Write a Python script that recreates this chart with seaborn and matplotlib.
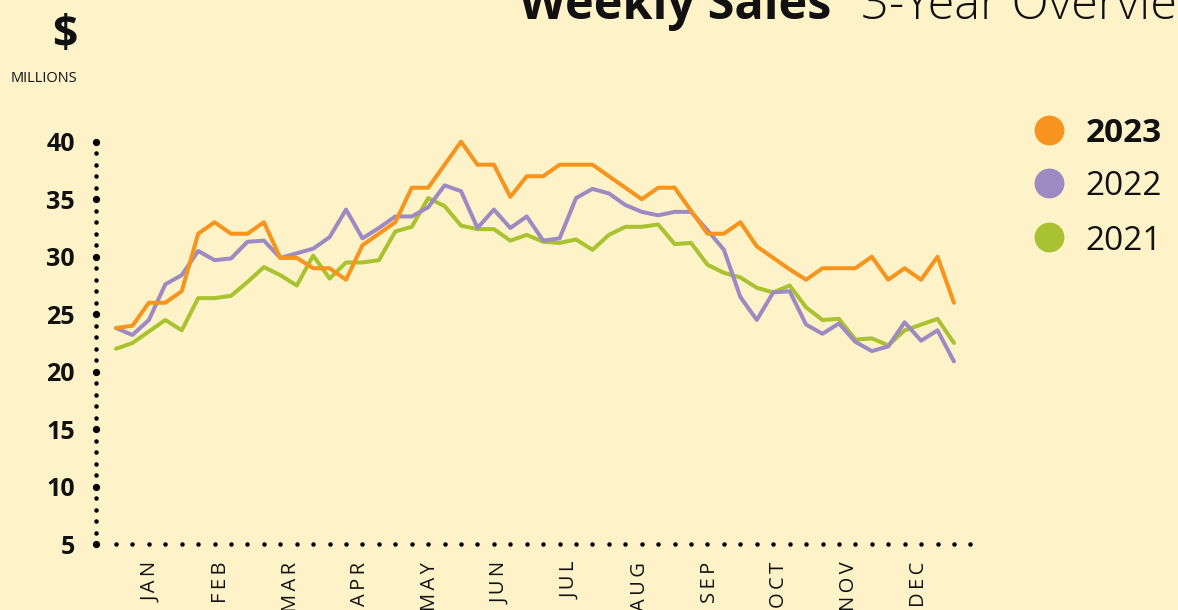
import numpy as np
import pandas as pd
import matplotlib
matplotlib.use("Agg")
import matplotlib.pyplot as plt
from matplotlib.lines import Line2D
import seaborn as sns

# ---------------- data ----------------
years = ["2023", "2022", "2021"]
months = ["JAN", "FEB", "MAR", "APR", "MAY", "JUN", "JUL", "AUG", "SEP", "OCT", "NOV", "DEC"]
sales_2023 = [23.8, 24.0, 26.0, 26.0, 27.0, 32.0, 33.0, 32.0, 32.0, 33.0,
              29.9, 29.9, 29.0, 29.0, 28.0, 31.0, 32.0, 33.0, 36.0, 36.0,
              38.0, 40.0, 38.0, 38.0, 35.2, 37.0, 37.0, 38.0, 38.0, 38.0,
              37.0, 36.0, 35.0, 36.0, 36.0, 34.0, 32.0, 32.0, 33.0, 30.9,
              29.9, 28.9, 28.0, 29.0, 29.0, 29.0, 30.0, 28.0, 29.0, 28.0,
              30.0, 26.0]
sales_2022 = [23.8, 23.2, 24.5, 27.6, 28.4, 30.5, 29.7, 29.85, 31.3, 31.4,
              29.9, 30.3, 30.7, 31.7, 34.1, 31.6, 32.5, 33.5, 33.5, 34.3,
              36.2, 35.7, 32.5, 34.1, 32.5, 33.5, 31.4, 31.6, 35.1, 35.9,
              35.5, 34.5, 33.9, 33.6, 33.9, 33.9, 32.3, 30.6, 26.5, 24.5,
              26.9, 27.0, 24.1, 23.3, 24.2, 22.6, 21.8, 22.2, 24.3, 22.7,
              23.6, 20.9]
sales_2021 = [22.0, 22.5, 23.5, 24.5, 23.6, 26.4, 26.4, 26.6, 27.8, 29.1,
              28.4, 27.5, 30.1, 28.1, 29.5, 29.5, 29.7, 32.2, 32.6, 35.1,
              34.4, 32.7, 32.4, 32.4, 31.4, 31.9, 31.3, 31.2, 31.5, 30.6,
              31.9, 32.6, 32.6, 32.8, 31.1, 31.2, 29.3, 28.6, 28.2, 27.3,
              26.9, 27.5, 25.6, 24.5, 24.6, 22.8, 22.9, 22.3, 23.6, 24.1,
              24.6, 22.5]
y_ticks = [5, 10, 15, 20, 25, 30, 35, 40]

colors = {"2023": "#F7941D", "2022": "#9E8AC2", "2021": "#A9C22F"}
BG = "#FEF3C8"

n_weeks = len(sales_2023)
df = pd.DataFrame({
    "week": np.tile(np.arange(n_weeks), 3),
    "sales": sales_2021 + sales_2022 + sales_2023,
    "year": ["2021"] * n_weeks + ["2022"] * n_weeks + ["2023"] * n_weeks,
})

# ---------------- figure ----------------
W, H = 1178, 610
sns.set_theme(style="white")
plt.rcParams["font.family"] = ["Open Sans", "DejaVu Sans"]

fig = plt.figure(figsize=(W / 100, H / 100), dpi=100, facecolor=BG)

def px(x, y):
    return x / W, 1 - y / H

xmin, xmax = -1.2, 52.2
week_px = 16.43
ax_left, ax_bottom_px, ax_top_px = 96.3, 544.3, 141.7
ax = fig.add_axes([ax_left / W, 1 - ax_bottom_px / H,
                   (xmax - xmin) * week_px / W, (ax_bottom_px - ax_top_px) / H])
ax.set_facecolor(BG)

for yr in ["2021", "2022", "2023"]:
    sns.lineplot(data=df[df["year"] == yr], x="week", y="sales", color=colors[yr],
                 linewidth=2.9, ax=ax, legend=False, clip_on=False,
                 solid_joinstyle="round", solid_capstyle="round")

ax.set_xlim(xmin, xmax)
ax.set_ylim(5, 40)
for s in ax.spines.values():
    s.set_visible(False)

# dotted axes
minor = [v for v in range(5, 41) if v % 5 != 0]
ax.plot(np.full(len(minor), xmin), minor, "o", ms=2.2, color="black", clip_on=False, zorder=5)
ax.plot(np.full(len(y_ticks), xmin), y_ticks, "o", ms=4.2, color="black", clip_on=False, zorder=5)
xd = np.arange(0, 53)
ax.plot(xd, np.full(len(xd), 5), "o", ms=2.2, color="black", clip_on=False, zorder=5)

ax.set_yticks(y_ticks)
ax.set_yticklabels([str(v) for v in y_ticks], fontsize=18, fontweight="bold", color="#111111")
ax.tick_params(axis="y", length=0, pad=15.5)

m_pos = [(k + 0.5) * (n_weeks - 1) / 12 for k in range(12)]
ax.set_xticks(m_pos)
ax.set_xticklabels(["\u2009".join(m) for m in months], rotation=90, fontsize=14.5,
                   color="#111111", va="top", ha="center")
ax.tick_params(axis="x", length=0, pad=12.5)
ax.set_xlabel("")
ax.set_ylabel("")
ax.grid(False)

# ---------------- texts ----------------
fig.text(*px(65, 47), "$", ha="center", va="baseline", fontsize=32, fontweight="bold", color="#111111")
fig.text(*px(43.5, 78), "MILLIONS", ha="center", va="center", fontsize=10.5, color="#111111")

t1 = fig.text(*px(519, 19), "Weekly Sales", ha="left", va="baseline", fontsize=35,
              fontweight="bold", color="#111111")
fig.canvas.draw()
bb = t1.get_window_extent(renderer=fig.canvas.get_renderer())
fig.text(bb.x1 / W + 30 / W, 1 - 19 / H, "3-Year Overview", ha="left", va="baseline",
         fontsize=35, fontweight="light", color="#111111")

# legend
leg_y = [129.5, 182.8, 237.0]
for yr, yy in zip(years, leg_y):
    fig.add_artist(Line2D([1049.2 / W], [1 - yy / H], marker="o", ms=20.5, color=colors[yr],
                          linestyle="none", transform=fig.transFigure))
    fig.text(1085.5 / W, 1 - yy / H, yr, ha="left", va="center_baseline", fontsize=24,
             fontweight="bold" if yr == "2023" else "normal", color="#111111")

fig.savefig("out.png", dpi=100, facecolor=BG)
